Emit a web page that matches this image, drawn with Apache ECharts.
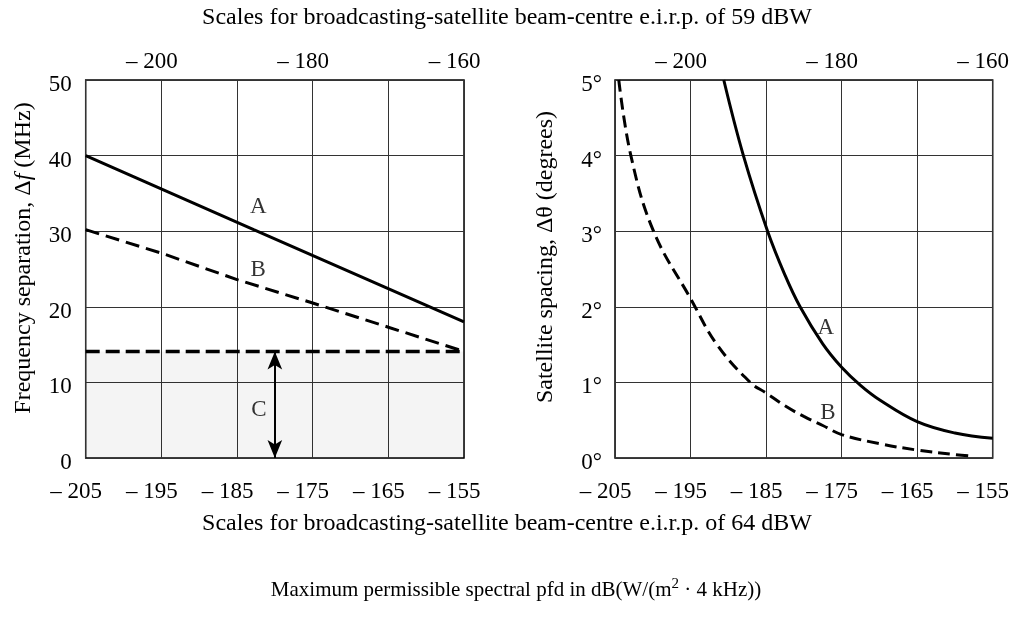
<!DOCTYPE html>
<html><head><meta charset="utf-8">
<script src="https://cdn.jsdelivr.net/npm/echarts@6/dist/echarts.min.js"></script>
<style>html,body{margin:0;padding:0;background:#fff}#c{width:1015px;height:622px}</style>
</head><body><div id="c"></div>
<script>
const FONT = '"Liberation Serif", "Times New Roman", serif';
// tick labels
const bottomTicks = [-205, -195, -185, -175, -165, -155];   // 64 dBW scale
const topTicks = [-200, -180, -160];                        // 59 dBW scale
// left panel: frequency separation (MHz)
const leftA = [[-205, 40], [-182.8, 30.2], [-155, 18]];
const leftB = [[-205, 30.2], [-195, 27.1], [-185, 23.6], [-175, 20.5], [-165, 17.3], [-155, 14.1]];
const leftC = [[-205, 14.1], [-155, 14.1]];
const arrowC = [[-180, 0], [-180, 14.1]];
const leftLabels = [['A', -182.2, 33.2], ['B', -182.2, 24.9], ['C', -182.1, 6.3]];
// right panel: satellite spacing (degrees)
const rightA = [[-190.6, 5], [-188, 4], [-184.8, 3], [-182.5, 2.42], [-180.5, 2], [-177.5, 1.51], [-175, 1.2], [-172.5, 0.96], [-170, 0.77], [-165, 0.48], [-160, 0.33], [-155, 0.26]];
const rightB = [[-204.5, 5], [-202.9, 4], [-199.9, 3], [-195, 2.11], [-191.5, 1.5], [-187.1, 1.0], [-185, 0.86], [-182.5, 0.69], [-180, 0.55], [-177.5, 0.43], [-175, 0.31], [-170, 0.19], [-165, 0.105], [-160, 0.045], [-157.8, 0.025]];
const rightLabels = [['A', -177.1, 1.72], ['B', -176.8, 0.6]];

const chart = echarts.init(document.getElementById('c'));
const tickFont = { fontFamily: FONT, fontSize: 23, color: '#000' };
const gridLine = { show: true, lineStyle: { color: '#333', width: 1 } };

function bottomAxis(gi) {
  return { type: 'value', gridIndex: gi, position: 'bottom', min: -205, max: -155, interval: 5,
    axisLine: { show: false }, axisTick: { show: false }, splitLine: { show: false },
    axisLabel: Object.assign({ margin: 22, padding: [0, 19, 0, 0],
      formatter: v => bottomTicks.includes(Math.round(v)) ? '\u2013 ' + Math.abs(Math.round(v)) : '' }, tickFont) };
}
function topAxis(gi) {
  return { type: 'value', gridIndex: gi, position: 'top', min: -210, max: -160, interval: 10,
    axisLine: { show: false }, axisTick: { show: false }, splitLine: gridLine,
    axisLabel: Object.assign({ margin: 7, padding: [0, 19, 0, 0],
      formatter: v => topTicks.includes(Math.round(v)) ? '\u2013 ' + Math.abs(Math.round(v)) : '' }, tickFont) };
}
function labelSeries(xi, yi, arr) {
  return { type: 'scatter', xAxisIndex: xi, yAxisIndex: yi, symbolSize: 1, silent: true,
    itemStyle: { color: 'rgba(0,0,0,0)' },
    data: arr.map(d => ({ name: d[0], value: [d[1], d[2]] })),
    label: { show: true, position: 'inside', formatter: '{b}', fontFamily: FONT, fontSize: 23, color: '#000' } };
}

chart.setOption({
  animation: false,
  backgroundColor: '#fff',
  grid: [
    { left: 85.7, top: 80, width: 378.3, height: 378, show: true, borderColor: '#000', borderWidth: 1.5, containLabel: false },
    { left: 615, top: 80, width: 377.7, height: 378, show: true, borderColor: '#000', borderWidth: 1.5, containLabel: false }
  ],
  xAxis: [bottomAxis(0), topAxis(0), bottomAxis(1), topAxis(1)],
  yAxis: [
    { type: 'value', gridIndex: 0, min: 0, max: 50, interval: 10,
      axisLine: { show: false }, axisTick: { show: false }, splitLine: gridLine,
      axisLabel: Object.assign({ margin: 14, verticalAlign: 'top', lineHeight: 10 }, tickFont),
      name: 'Frequency separation, \u0394{i|f} (MHz)', nameLocation: 'middle', nameGap: 50, nameRotate: 90,
      nameTextStyle: { fontFamily: FONT, fontSize: 24, color: '#000', padding: [0, 0, 0, 22],
        rich: { i: { fontFamily: FONT, fontSize: 24, fontStyle: 'italic', color: '#000' } } } },
    { type: 'value', gridIndex: 1, min: 0, max: 5, interval: 1,
      axisLine: { show: false }, axisTick: { show: false }, splitLine: gridLine,
      axisLabel: Object.assign({ margin: 13, verticalAlign: 'top', lineHeight: 10, formatter: '{value}\u00b0' }, tickFont),
      name: 'Satellite spacing, \u0394\u03b8 (degrees)', nameLocation: 'middle', nameGap: 57, nameRotate: 90,
      nameTextStyle: { fontFamily: FONT, fontSize: 24, color: '#000', padding: [0, 0, 0, 24] } }
  ],
  series: [
    { type: 'line', xAxisIndex: 0, yAxisIndex: 0, data: leftC, symbol: 'none', silent: true,
      lineStyle: { color: '#000', width: 3.5, type: [14, 6] },
      areaStyle: { color: 'rgba(0,0,0,0.06)', origin: 'start' } },
    { type: 'line', xAxisIndex: 0, yAxisIndex: 0, data: leftA, symbol: 'none', silent: true,
      lineStyle: { color: '#000', width: 3 } },
    { type: 'line', xAxisIndex: 0, yAxisIndex: 0, data: leftB, symbol: 'none', silent: true,
      lineStyle: { color: '#000', width: 3, type: [14, 7] } },
    { type: 'line', xAxisIndex: 0, yAxisIndex: 0, data: [], silent: true,
      markLine: { silent: true, symbol: ['arrow', 'arrow'], symbolSize: [11, 18],
        lineStyle: { color: '#000', width: 2, type: 'solid' }, label: { show: false },
        data: [[{ coord: arrowC[0] }, { coord: arrowC[1] }]] } },
    labelSeries(0, 0, leftLabels),
    { type: 'line', xAxisIndex: 2, yAxisIndex: 1, data: rightA, symbol: 'none', silent: true, smooth: 0.4,
      lineStyle: { color: '#000', width: 3 } },
    { type: 'line', xAxisIndex: 2, yAxisIndex: 1, data: rightB, symbol: 'none', silent: true, smooth: 0.4,
      lineStyle: { color: '#000', width: 3, type: [12, 6] } },
    labelSeries(2, 1, rightLabels)
  ],
  graphic: [
    { type: 'text', x: 507, y: 18, style: { text: 'Scales for broadcasting-satellite beam-centre e.i.r.p. of 59 dBW',
      font: '24px ' + FONT, fill: '#000', align: 'center', verticalAlign: 'middle' } },
    { type: 'text', x: 507, y: 524, style: { text: 'Scales for broadcasting-satellite beam-centre e.i.r.p. of 64 dBW',
      font: '24px ' + FONT, fill: '#000', align: 'center', verticalAlign: 'middle' } },
    { type: 'text', x: 516, y: 590, style: { text: 'Maximum permissible spectral pfd in dB(W/(m{s|2} \u00b7 4 kHz))',
      font: '21px ' + FONT, fill: '#000', align: 'center', verticalAlign: 'middle',
      rich: { s: { fontSize: 15, fontFamily: FONT, padding: [0, 0, 12, 0] } } } }
  ]
});
</script></body></html>
